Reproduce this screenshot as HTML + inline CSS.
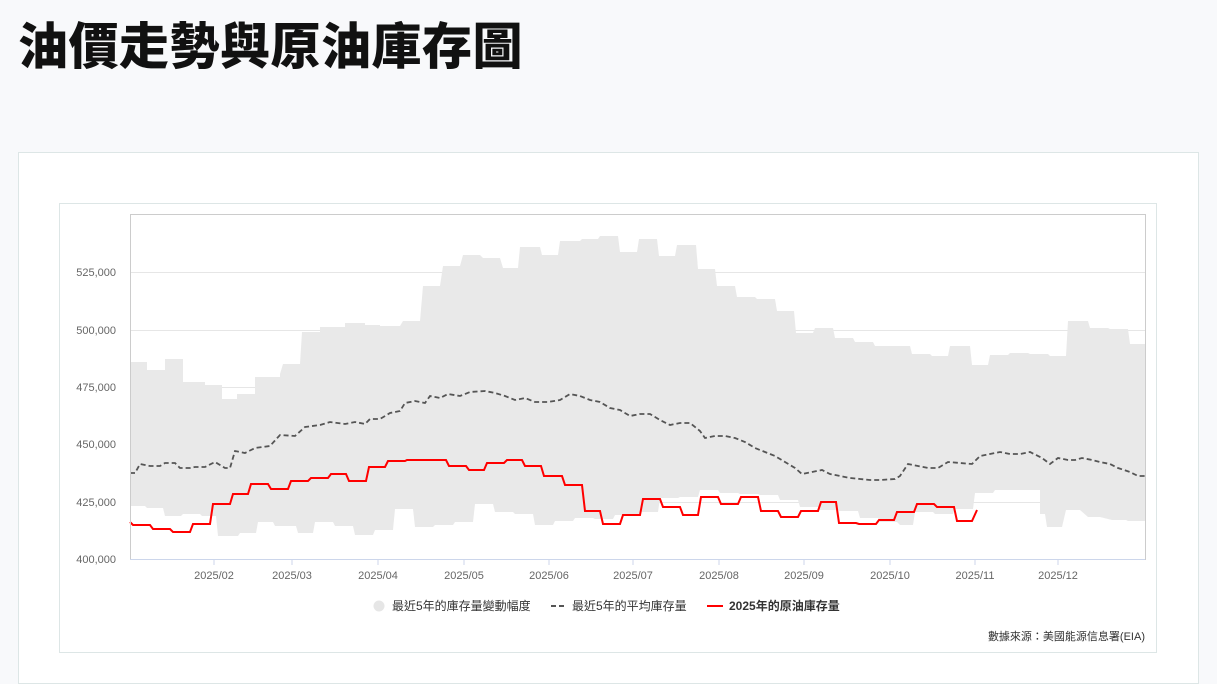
<!DOCTYPE html>
<html><head><meta charset="utf-8"><style>
body{margin:0;width:1217px;height:668px;background:#f8f9fb;overflow:hidden;font-family:"Liberation Sans","Noto Sans CJK TC",sans-serif;}
h1{position:absolute;left:18px;top:7px;margin:0;font-size:50px;font-weight:900;color:#111;font-family:"Noto Sans CJK TC",sans-serif;letter-spacing:0.5px}
.card{position:absolute;left:18px;top:152px;width:1179px;height:530px;background:#fff;border:1px solid #dde6e6}
</style></head><body>
<h1>油價走勢與原油庫存圖</h1>
<div class="card"></div>
<svg style="position:absolute;left:0;top:0" width="1217" height="668">
<rect x="59.5" y="203.5" width="1097" height="449" fill="#fff" stroke="#dde6e6"/>
<g stroke="#e6e6e6" stroke-width="1">
<line x1="130" y1="272.5" x2="1145" y2="272.5"/><line x1="130" y1="330.5" x2="1145" y2="330.5"/><line x1="130" y1="387.5" x2="1145" y2="387.5"/><line x1="130" y1="444.5" x2="1145" y2="444.5"/><line x1="130" y1="502.5" x2="1145" y2="502.5"/>
</g>
<polygon fill="#e9e9e9" points="130,362 147,362 147,370 165,370 165,359 183,359 183,382 205,382 205,385 222,385 222,399 237,399 237,394 255,394 255,377 280,377 280,374 283,364 300,364 302,332 320,332 320,327 345,327 345,323 365,323 365,325 380,325 380,326 400,326 403,321 420,321 423,286 440,286 443,266 460,266 463,255 480,255 483,258 500,258 503,268 518,268 520,247 540,247 542,255 558,255 560,241 580,241 582,239 598,239 600,236 618,236 620,252 637,252 639,239 657,239 659,256 675,256 677,245 696,245 698,269 715,269 717,286 735,286 737,297 755,297 757,299 775,299 777,311 794,311 796,333 813,333 815,328 833,328 835,338 853,338 855,342 873,342 875,346 910,346 912,354 930,354 932,356 948,356 950,346 970,346 972,365 988,365 990,355 1008,355 1010,353 1028,353 1030,354 1048,354 1050,356 1066,356 1068,321 1088,321 1090,328 1108,328 1110,329 1128,329 1130,344 1145,344 1145,521 1128,521 1126,520 1112,520 1100,517 1088,517 1080,510 1066,510 1062,527 1047,527 1045,514 1040,514 1040,490 995,490 993,493 975,493 973,509 955,509 953,514 935,514 933,512 915,512 913,525 900,525 897,522 880,522 878,518 860,518 858,511 840,511 838,510 820,510 818,507 800,507 798,500 780,500 778,495 760,495 758,494 740,494 738,493 720,493 718,490 700,490 698,497 680,497 678,498 660,498 658,512 640,512 638,515 615,515 613,519 595,519 593,518 575,518 573,521 555,521 553,525 535,525 533,514 515,514 513,512 495,512 493,504 475,504 473,522 455,522 453,525 435,525 433,527 415,527 413,509 395,509 393,530 375,530 373,535 355,535 353,526 335,526 333,522 315,522 313,533 298,533 296,526 275,526 273,522 258,522 256,533 240,533 238,536 218,536 216,516 202,516 200,514 183,514 181,516 165,516 163,508 147,508 145,506 130,506"/>
<polyline fill="none" stroke="#555" stroke-width="1.8" stroke-dasharray="5,3" points="130,473 135,473 140,464 150,466 160,466 165,463 175,463 180,468 190,468 195,467 205,467 215,462 225,468 230,468 235,451 245,453 255,448 270,446 280,435 295,436 305,427 320,425 330,422 345,424 355,422 365,424 370,419 380,419 390,413 400,411 405,403 415,401 425,403 430,396 440,398 448,394 460,396 470,392 485,391 495,393 505,396 515,400 525,398 535,402 548,402 560,400 570,394 580,396 590,400 600,402 610,408 620,410 630,416 640,414 650,414 660,420 670,425 680,423 690,423 700,431 705,438 715,436 725,436 735,438 745,442 755,448 765,452 775,456 785,462 795,468 802,474 812,472 822,470 830,474 840,476 850,478 860,479 870,480 880,480 895,479 900,476 908,464 918,466 928,468 938,468 948,462 960,463 972,464 980,456 990,454 1000,452 1010,454 1020,454 1030,452 1042,458 1050,464 1058,458 1068,460 1075,460 1082,458 1092,460 1100,462 1110,464 1118,468 1130,472 1138,476 1145,476"/>
<polyline fill="none" stroke="#f00" stroke-width="2" points="130,522 133,525 150,525 153,529 170,529 173,532 190,532 193,524 210,524 213,504 230,504 233,494 248,494 251,484 268,484 271,489 288,489 291,481 308,481 311,478 328,478 331,474 346,474 349,481 366,481 369,467 385,467 388,461 405,461 407,460 446,460 449,466 466,466 469,470 484,470 487,463 504,463 507,460 522,460 525,466 541,466 544,476 562,476 565,485 582,485 585,511 600,511 603,524 620,524 623,515 640,515 643,499 660,499 663,507 680,507 683,515 698,515 701,497 718,497 721,504 738,504 741,497 758,497 761,511 778,511 781,517 798,517 801,511 818,511 821,502 836,502 839,523 856,523 859,524 876,524 879,520 894,520 897,512 914,512 917,504 934,504 937,507 954,507 957,521 972,521 977,510"/>
<rect x="130.5" y="214.5" width="1015" height="345" fill="none" stroke="#ccc"/>
<line x1="130" y1="559.5" x2="1145" y2="559.5" stroke="#ccd6eb"/>
<g stroke="#ccd6eb"><line x1="214" y1="559" x2="214" y2="565"/><line x1="292" y1="559" x2="292" y2="565"/><line x1="378" y1="559" x2="378" y2="565"/><line x1="464" y1="559" x2="464" y2="565"/><line x1="549" y1="559" x2="549" y2="565"/><line x1="633" y1="559" x2="633" y2="565"/><line x1="719" y1="559" x2="719" y2="565"/><line x1="804" y1="559" x2="804" y2="565"/><line x1="890" y1="559" x2="890" y2="565"/><line x1="975" y1="559" x2="975" y2="565"/><line x1="1058" y1="559" x2="1058" y2="565"/></g>
<g font-size="11" fill="#666" text-anchor="end" font-family="Liberation Sans,sans-serif"><text x="116" y="276">525,000</text><text x="116" y="334">500,000</text><text x="116" y="391">475,000</text><text x="116" y="448">450,000</text><text x="116" y="506">425,000</text><text x="116" y="563">400,000</text></g>
<g font-size="11" fill="#666" text-anchor="middle" font-family="Liberation Sans,sans-serif"><text x="214" y="579">2025/02</text><text x="292" y="579">2025/03</text><text x="378" y="579">2025/04</text><text x="464" y="579">2025/05</text><text x="549" y="579">2025/06</text><text x="633" y="579">2025/07</text><text x="719" y="579">2025/08</text><text x="804" y="579">2025/09</text><text x="890" y="579">2025/10</text><text x="975" y="579">2025/11</text><text x="1058" y="579">2025/12</text></g>
<circle cx="379" cy="606" r="5.5" fill="#e6e6e6"/>
<line x1="551" y1="606" x2="565" y2="606" stroke="#555" stroke-width="2" stroke-dasharray="5,3"/>
<line x1="707" y1="606" x2="723" y2="606" stroke="#f00" stroke-width="2"/>
<g font-size="12" fill="#333" font-family="Liberation Sans,Noto Sans CJK TC,sans-serif"><text x="392" y="610">最近5年的庫存量變動幅度</text><text x="572" y="610">最近5年的平均庫存量</text><text x="729" y="610" font-weight="bold">2025年的原油庫存量</text><text x="1145" y="640" text-anchor="end" font-size="11">數據來源：美國能源信息署(EIA)</text></g>
</svg>
</body></html>
